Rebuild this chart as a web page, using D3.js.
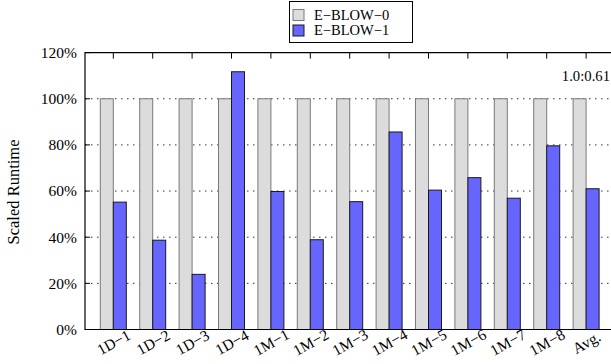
<!DOCTYPE html>
<html>
<head>
<meta charset="utf-8">
<script src="https://cdn.jsdelivr.net/npm/d3@7"></script>
<style>
  html, body { margin: 0; padding: 0; background: #fff; }
  svg { display: block; }
  text { font-family: "Liberation Serif", "Times New Roman", serif; fill: #000; }
</style>
</head>
<body>
<svg id="chart" width="611" height="364"></svg>
<script>
// Benchmarks and scaled runtimes (percent of E-BLOW-0)
const categories = ["1D\u22121", "1D\u22122", "1D\u22123", "1D\u22124", "1M\u22121", "1M\u22122", "1M\u22123", "1M\u22124", "1M\u22125", "1M\u22126", "1M\u22127", "1M\u22128", "Avg."];
const seriesNames = ["E\u2212BLOW\u22120", "E\u2212BLOW\u22121"];
const eblow0 = [100, 100, 100, 100, 100, 100, 100, 100, 100, 100, 100, 100, 100];
const eblow1 = [55.2, 38.7, 23.9, 111.7, 59.8, 38.9, 55.4, 85.6, 60.4, 65.8, 56.9, 79.6, 61];
const yTicks = [0, 20, 40, 60, 80, 100, 120];
const gridValues = [20, 40, 60, 80, 100];
const ratioNote = "1.0:0.61";

const svg = d3.select("#chart");

const plot = { left: 85, top: 52.6, bottom: 329.5, right: 614.3 };
const barW = 13;

const x = d3.scaleLinear().domain([0, categories.length - 1]).range([113.3, 586.1]);
const y = d3.scaleLinear().domain([0, 120]).range([plot.bottom, plot.top]);

// dotted horizontal grid
svg.append("g").selectAll("line").data(gridValues).join("line")
  .attr("x1", plot.left).attr("x2", plot.right)
  .attr("y1", d => y(d)).attr("y2", d => y(d))
  .attr("stroke", "#333").attr("stroke-width", 1)
  .attr("stroke-dasharray", "1.5,4.5");

// left inner tick marks
svg.append("g").selectAll("line").data(yTicks).join("line")
  .attr("x1", plot.left).attr("x2", plot.left + 5)
  .attr("y1", d => y(d)).attr("y2", d => y(d))
  .attr("stroke", "#000").attr("stroke-width", 1);

// bars
const bars = svg.append("g");
bars.selectAll("rect.b0").data(eblow0).join("rect")
  .attr("class", "b0")
  .attr("x", (d, i) => x(i) - barW)
  .attr("y", d => y(d))
  .attr("width", barW)
  .attr("height", d => y(0) - y(d))
  .attr("fill", "#dcdcdc").attr("stroke", "#7a7a7a").attr("stroke-width", 1);
bars.selectAll("rect.b1").data(eblow1).join("rect")
  .attr("class", "b1")
  .attr("x", (d, i) => x(i))
  .attr("y", d => y(d))
  .attr("width", barW)
  .attr("height", d => y(0) - y(d))
  .attr("fill", "#6666ff").attr("stroke", "#1a1a1a").attr("stroke-width", 1);

// top tick marks at group centers
svg.append("g").selectAll("line").data(categories).join("line")
  .attr("x1", (d, i) => x(i)).attr("x2", (d, i) => x(i))
  .attr("y1", plot.top).attr("y2", plot.top + 6)
  .attr("stroke", "#000").attr("stroke-width", 1);

// frame
svg.append("path")
  .attr("d", `M${plot.right},${plot.top}H${plot.left}V${plot.bottom}H${plot.right}Z`)
  .attr("fill", "none").attr("stroke", "#000").attr("stroke-width", 1.2);

// y tick labels
svg.append("g").selectAll("text").data(yTicks).join("text")
  .attr("x", 77).attr("y", d => y(d)).attr("dy", "0.35em")
  .attr("text-anchor", "end").attr("font-size", 15.5)
  .text(d => d + "%");

// y axis title
svg.append("text")
  .attr("transform", "translate(19,192) rotate(-90)")
  .attr("text-anchor", "middle").attr("font-size", 16.5)
  .text("Scaled Runtime");

// x category labels, rotated
svg.append("g").selectAll("text").data(categories).join("text")
  .attr("transform", (d, i) => `translate(${x(i) + 3},${347}) rotate(-29)`)
  .attr("text-anchor", "middle").attr("font-size", 15.5)
  .text(d => d);

// ratio note
svg.append("text")
  .attr("x", 610).attr("y", 80.5).attr("text-anchor", "end")
  .attr("font-size", 14.7).text(ratioNote);

// legend
const lg = svg.append("g");
lg.append("rect").attr("x", 289.5).attr("y", 1.5).attr("width", 123).attr("height", 41)
  .attr("fill", "#fff").attr("stroke", "#000").attr("stroke-width", 1);
const sw = [{ fill: "#dcdcdc", stroke: "#7a7a7a" }, { fill: "#6666ff", stroke: "#1a1a1a" }];
seriesNames.forEach((name, i) => {
  lg.append("rect").attr("x", 293).attr("y", 9.5 + i * 15.5).attr("width", 11).attr("height", 11)
    .attr("fill", sw[i].fill).attr("stroke", sw[i].stroke).attr("stroke-width", 1);
  lg.append("text").attr("x", 314).attr("y", 19.5 + i * 15.5)
    .attr("font-size", 14.5).text(name);
});
</script>
</body>
</html>
